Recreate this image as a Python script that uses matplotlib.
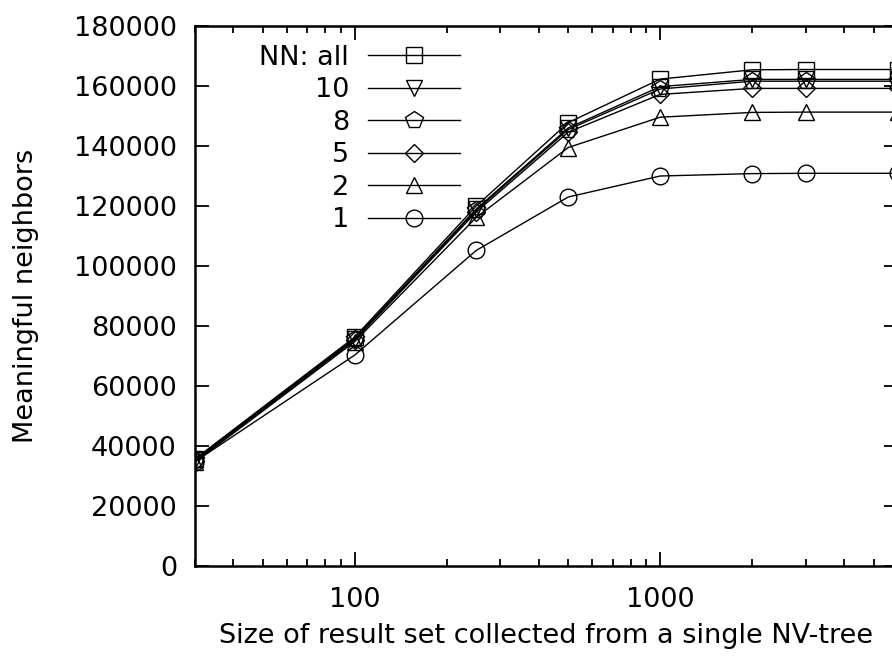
import matplotlib
matplotlib.use('Agg')
import matplotlib.pyplot as plt
from matplotlib.ticker import FixedLocator, NullFormatter, LogLocator

plt.rcParams['font.family'] = ['DejaVu Sans']

# result set sizes (x) and meaningful neighbor counts per NN setting
sizes = [30, 100, 250, 500, 1000, 2000, 3000, 6000]
nn_all = [35700, 76300, 120000, 147800, 162300, 165400, 165500, 165500]
nn_10 = [35400, 75800, 119000, 146000, 159800, 162200, 162200, 162200]
nn_8 = [35200, 75600, 118600, 145500, 159000, 161600, 161600, 161600]
nn_5 = [35000, 75300, 118000, 144600, 157200, 159200, 159200, 159200]
nn_2 = [34600, 74800, 116200, 139500, 149600, 151200, 151300, 151300]
nn_1 = [34800, 70300, 105200, 123000, 130000, 130800, 130900, 130900]

labels = ['NN: all', '10', '8', '5', '2', '1']
series = [nn_all, nn_10, nn_8, nn_5, nn_2, nn_1]
markers = ['s', 'v', 'p', 'D', '^', 'o']
msizes = [12, 12, 13, 9, 12, 12]

fs = 19.5

fig = plt.figure(figsize=(8.92, 6.6), dpi=100)
ax = fig.add_axes([0.2186, 0.1424, 0.788, 0.8182])

for ys, lab, m, ms in zip(series, labels, markers, msizes):
    ax.plot(sizes, ys, color='black', lw=1.0, marker=m, ms=ms,
            mfc='none', mec='black', mew=1.0, label=lab)

ax.set_xscale('log')
ax.set_xlim(30, 6000)
ax.set_ylim(0, 180000)
ax.set_yticks(range(0, 180001, 20000))
ax.xaxis.set_major_locator(FixedLocator([100, 1000]))
ax.xaxis.set_minor_locator(LogLocator(base=10, subs=range(2, 10)))
ax.xaxis.set_minor_formatter(NullFormatter())
ax.set_xticklabels(['100', '1000'])

ax.tick_params(which='both', direction='in', top=True, right=True,
               labelsize=fs, width=1.3)
ax.tick_params(axis='y', pad=13)
ax.tick_params(axis='x', pad=15)
ax.tick_params(which='major', length=10)
ax.tick_params(which='minor', length=5)
for s in ax.spines.values():
    s.set_linewidth(1.8)

ax.set_xlabel('Size of result set collected from a single NV-tree', fontsize=fs, labelpad=7)
ax.set_ylabel('Meaningful neighbors', fontsize=fs, labelpad=25)

leg = ax.legend(loc='upper right', bbox_to_anchor=(0.377, 0.965), frameon=False,
                markerfirst=False, alignment='right', fontsize=fs,
                handlelength=3.4, handletextpad=0.7, labelspacing=0.24,
                borderpad=0, borderaxespad=0)

fig.savefig('out.png', dpi=100)
